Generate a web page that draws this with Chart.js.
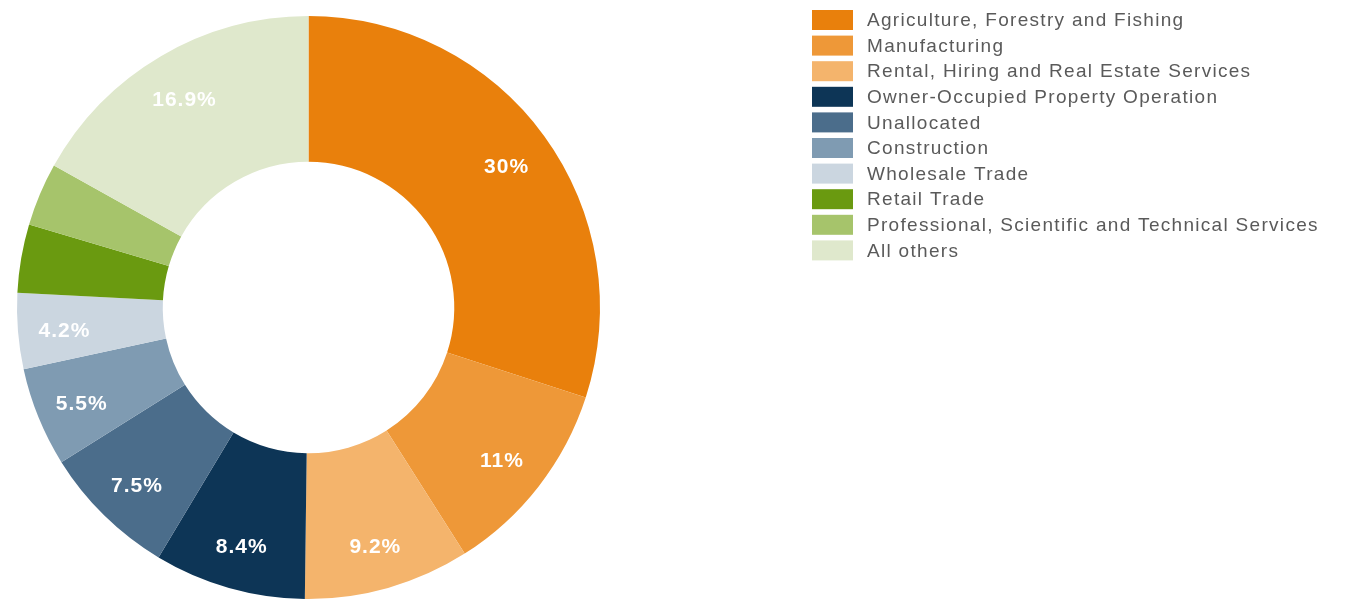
<!DOCTYPE html>
<html>
<head>
<meta charset="utf-8">
<title>Industry share</title>
<script src="https://cdn.jsdelivr.net/npm/chart.js@4/dist/chart.umd.min.js"></script>
<style>
  html, body { margin: 0; padding: 0; background: #ffffff; }
  #wrap { width: 1367px; height: 600px; }
</style>
</head>
<body>
<div id="wrap"><canvas id="chart" width="1367" height="600"></canvas></div>
<script>
// Industry categories and their share of the total (%)
const industries = [
  'Agriculture, Forestry and Fishing',
  'Manufacturing',
  'Rental, Hiring and Real Estate Services',
  'Owner-Occupied Property Operation',
  'Unallocated',
  'Construction',
  'Wholesale Trade',
  'Retail Trade',
  'Professional, Scientific and Technical Services',
  'All others'
];
const shares = [30, 11, 9.2, 8.4, 7.5, 5.5, 4.2, 3.8, 3.5, 16.9];
const sliceColors = [
  '#E9800C', '#EE9838', '#F4B46C', '#0D3556', '#4B6D8B',
  '#7F9BB2', '#CBD6E0', '#6A9A10', '#A6C46B', '#DFE8CC'
];
// Slices below this share carry no value label
const labelMinShare = 4;

// White percentage labels placed inside each slice
const sliceLabels = {
  id: 'sliceLabels',
  afterDatasetsDraw(chart) {
    const ctx = chart.ctx;
    const meta = chart.getDatasetMeta(0);
    const values = chart.data.datasets[0].data;
    ctx.save();
    ctx.font = 'bold 21px "Liberation Sans", Arial, sans-serif';
    ctx.letterSpacing = '1px';
    ctx.fillStyle = '#ffffff';
    ctx.textAlign = 'center';
    ctx.textBaseline = 'middle';
    meta.data.forEach((arc, i) => {
      const v = values[i];
      if (v < labelMinShare) return;
      const p = arc.getProps(['x', 'y', 'startAngle', 'endAngle', 'innerRadius', 'outerRadius'], true);
      const mid = (p.startAngle + p.endAngle) / 2;
      const r = p.innerRadius + (p.outerRadius - p.innerRadius) * 0.68;
      ctx.fillText(v + '%', p.x + Math.cos(mid) * r, p.y + Math.sin(mid) * r + 4);
    });
    ctx.restore();
  }
};

// Legend list drawn at the right of the ring
const sideLegend = {
  id: 'sideLegend',
  afterDraw(chart) {
    const ctx = chart.ctx;
    const labels = chart.data.labels;
    const colors = chart.data.datasets[0].backgroundColor;
    const left = 812, top = 10, rowH = 25.6, boxW = 41, boxH = 20;
    ctx.save();
    ctx.font = '19px "Liberation Sans", Arial, sans-serif';
    ctx.letterSpacing = '1.3px';
    ctx.textBaseline = 'middle';
    ctx.textAlign = 'left';
    labels.forEach((name, i) => {
      const y = top + i * rowH;
      ctx.fillStyle = colors[i];
      ctx.fillRect(left, y, boxW, boxH);
      ctx.fillStyle = '#5a5a5a';
      ctx.fillText(name, left + boxW + 14, y + boxH / 2 + 1);
    });
    ctx.restore();
  }
};

new Chart(document.getElementById('chart'), {
  type: 'doughnut',
  data: {
    labels: industries,
    datasets: [{
      data: shares,
      backgroundColor: sliceColors,
      borderWidth: 0
    }]
  },
  options: {
    responsive: false,
    animation: false,
    cutout: '50%',
    layout: { padding: { left: 17, top: 16, right: 767, bottom: 1 } },
    plugins: {
      legend: { display: false },
      tooltip: { enabled: false }
    }
  },
  plugins: [sliceLabels, sideLegend]
});
</script>
</body>
</html>
